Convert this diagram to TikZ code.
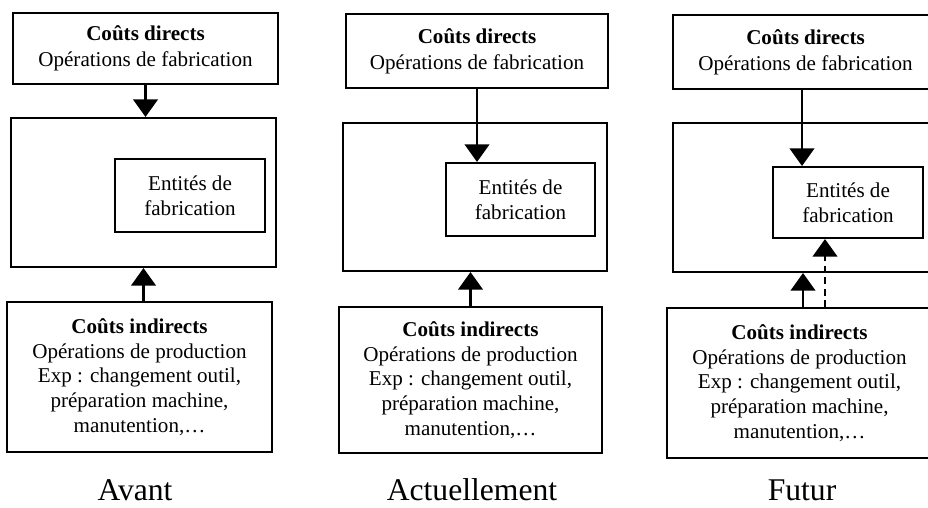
\documentclass[tikz,border=0pt]{standalone}
\usepackage{fontspec}
\setmainfont{Liberation Serif}
\usetikzlibrary{arrows.meta}
\tikzset{
  box/.style={draw,line width=1.2pt,rectangle,inner sep=0pt,align=center,font=\fontsize{12}{14}\selectfont},
  topbox/.style={box,font=\fontsize{12}{15}\selectfont},
  era/.style={inner sep=1pt,font=\fontsize{18}{20}\selectfont}
}

\begin{document}
\begin{tikzpicture}[x=0.02cm,y=-0.02cm]
    \path[use as bounding box,clip] (0,0) rectangle (928,507);

    % Avant
    \node[topbox,minimum width=5.30cm,minimum height=1.42cm] (1) at (145.5,48.5) {\textbf{Coûts directs}\\Opérations de fabrication};
    \node[box,minimum width=5.30cm,minimum height=2.98cm] (2) at (143.5,192.5) {};
    \node[box,minimum width=3.00cm,minimum height=1.46cm] (3) at (190,195.5) {Entités de\\fabrication};
    \node[box,minimum width=5.30cm,minimum height=3.00cm] (4) at (139.5,377) {\textbf{Coûts indirects}\\Opérations de production\\Exp : changement outil,\\préparation machine,\\manutention,\ldots};
    \node[era] (5) at (135,490) {Avant};

    % Actuellement
    \node[topbox,minimum width=5.24cm,minimum height=1.48cm] (6) at (477,51) {\textbf{Coûts directs}\\Opérations de fabrication};
    \node[box,minimum width=5.28cm,minimum height=2.96cm] (7) at (475,197) {};
    \node[box,minimum width=2.98cm,minimum height=1.46cm] (8) at (520.5,199.5) {Entités de\\fabrication};
    \node[box,minimum width=5.26cm,minimum height=2.92cm] (9) at (470.5,380) {\textbf{Coûts indirects}\\Opérations de production\\Exp : changement outil,\\préparation machine,\\manutention,\ldots};
    \node[era] (10) at (472,490) {Actuellement};

    % Futur
    \node[topbox,minimum width=5.30cm,minimum height=1.48cm] (11) at (805.5,52) {\textbf{Coûts directs}\\Opérations de fabrication};
    \node[box,minimum width=5.30cm,minimum height=2.98cm] (12) at (805.5,197.5) {};
    \node[box,minimum width=3.00cm,minimum height=1.42cm] (13) at (848,202.5) {Entités de\\fabrication};
    \node[box,minimum width=5.30cm,minimum height=3.00cm] (14) at (799.5,383) {\textbf{Coûts indirects}\\Opérations de production\\Exp : changement outil,\\préparation machine,\\manutention,\ldots};
    \node[era] (15) at (802,490) {Futur};

    \path[-{Triangle[width=14pt,length=10pt]},black,line width=1.2pt]
    (1.south) edge (1.south |- 2.north)
    (2.south |- 4.north) edge (2.south)
    (6.south) edge (6.south |- 8.north)
    (9.north) edge (9.north |- 7.south)
    ([xshift=-0.07cm]11.south) edge ([xshift=-0.07cm]11.south |- 13.north)
    ([xshift=0.07cm]14.north) edge ([xshift=0.07cm]14.north |- 12.south)
    ([xshift=0.51cm]14.north) edge [dash pattern=on 4pt off 2.5pt] ([xshift=0.51cm]14.north |- 13.south);
\end{tikzpicture}
\end{document}
